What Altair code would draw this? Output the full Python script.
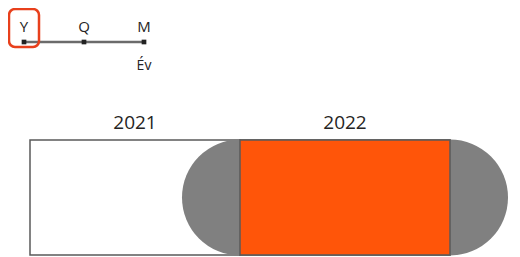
import altair as alt
import pandas as pd

# --- data ---
years = [2021, 2022]
selected_year = 2022
granularities = ["Y", "Q", "M"]
selected_granularity = "Y"
granularity_label = "Év"

TEXT = "#252423"
FONT = "Open Sans"

year_df = pd.DataFrame({"year": years, "label": [str(y) for y in years]})
sel_df = pd.DataFrame({"year": [selected_year]})
gran_df = pd.DataFrame({"opt": granularities})
gsel_df = pd.DataFrame({"opt": [selected_granularity]})
glabel_df = pd.DataFrame({"opt": [granularities[-1]], "label": [granularity_label]})

xs = alt.Scale(domain=[min(years) - 0.5, max(years) + 0.5], range=[22, 442])
X = lambda f: alt.X(f, type="quantitative", scale=xs, axis=None)

# year boxes
boxes = alt.Chart(year_df).transform_calculate(
    x0="datum.year - 0.5", x1="datum.year + 0.5"
).mark_rect(fill="white", stroke="#5a5a5a", strokeWidth=1.5).encode(
    x=X("x0"), x2="x1:Q", y=alt.value(132), y2=alt.value(247)
)

handles = alt.Chart(sel_df).transform_calculate(
    edge="[datum.year - 0.5, datum.year + 0.5]"
).transform_flatten(["edge"]).mark_circle(
    color="#808080", opacity=1, size=116 * 116
).encode(x=X("edge"), y=alt.value(189.5))

sel_box = alt.Chart(sel_df).transform_calculate(
    x0="datum.year - 0.5", x1="datum.year + 0.5"
).mark_rect(fill="#FF5509", stroke="#5a5a5a", strokeWidth=1.5).encode(
    x=X("x0"), x2="x1:Q", y=alt.value(132), y2=alt.value(247)
)

year_labels = alt.Chart(year_df).mark_text(
    font=FONT, fontSize=19, color=TEXT, baseline="middle"
).encode(x=X("year"), y=alt.value(115), text="label:N")

year_layer = alt.layer(boxes, handles, sel_box, year_labels)

# granularity slider
gs = alt.Scale(type="point", domain=granularities, range=[16, 136], padding=0)
GX = alt.X("opt:N", scale=gs, axis=None, sort=granularities)

g_line = alt.Chart(gran_df).mark_line(color="#6b6b6b", strokeWidth=2.5).encode(
    x=GX, y=alt.value(34)
)
g_ticks = alt.Chart(gran_df).mark_square(color="#222222", size=22, opacity=1).encode(
    x=GX, y=alt.value(34)
)
g_text = alt.Chart(gran_df).mark_text(
    font=FONT, fontSize=15, color=TEXT, baseline="middle"
).encode(x=GX, y=alt.value(19), text="opt:N")
g_sel = alt.Chart(gsel_df).mark_rect(
    filled=False, stroke="#E8401C", strokeWidth=2.5, cornerRadius=6,
    xOffset=-15, x2Offset=15
).encode(x=GX, x2="opt:N", y=alt.value(1), y2=alt.value(39))
g_label = alt.Chart(glabel_df).mark_text(
    font=FONT, fontSize=14, color=TEXT, baseline="middle"
).encode(x=GX, y=alt.value(58), text="label:N")

gran_layer = alt.layer(g_line, g_ticks, g_text, g_sel, g_label)

chart = alt.layer(year_layer, gran_layer).resolve_scale(x="independent").properties(
    width=504, height=249, padding=0, autosize=alt.AutoSizeParams(type="none")
).configure_view(stroke=None)

chart.save("out.html", embed_options={"renderer": "svg", "actions": False})
